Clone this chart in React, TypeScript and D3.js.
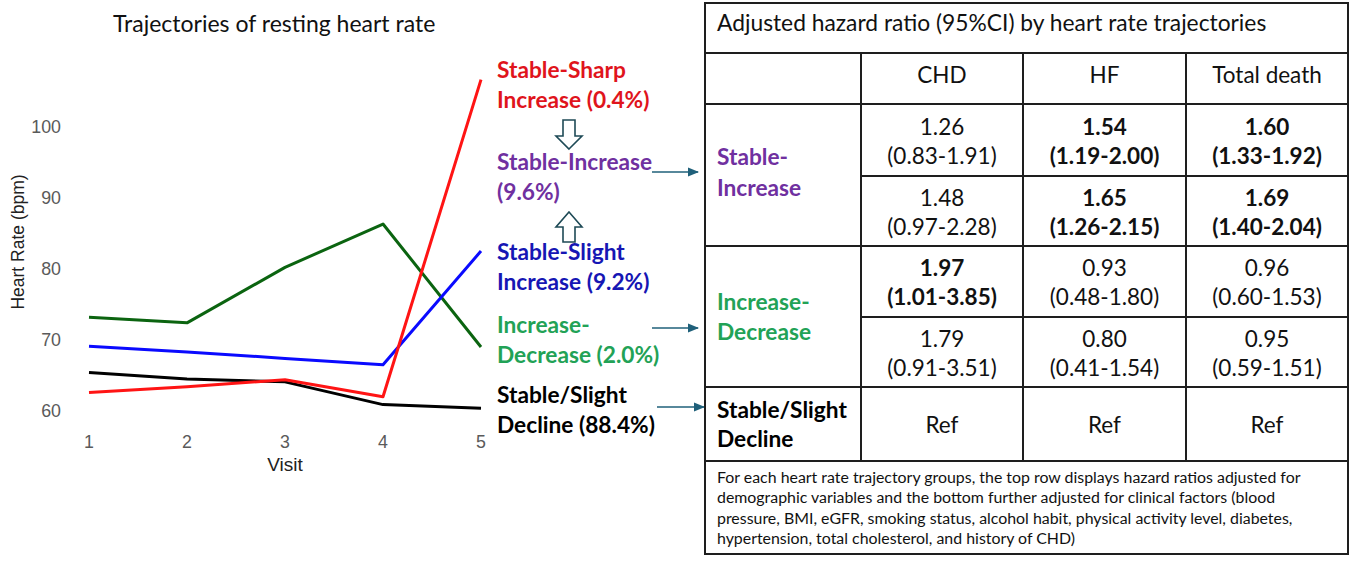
import * as d3 from "d3";

// ---- chart data ----
const visits = [1, 2, 3, 4, 5];
const yTicks = [60, 70, 80, 90, 100];

const sharpIncrease = [62.6, 63.4, 64.4, 62.0, 106.6];
const slightIncrease = [69.1, 68.3, 67.4, 66.5, 82.5];
const increaseDecrease = [73.2, 72.4, 80.2, 86.3, 69.0];
const slightDecline = [65.4, 64.5, 64.1, 60.9, 60.4];

const seriesNames = ["Stable-Sharp Increase", "Stable-Slight Increase", "Increase-Decrease", "Stable/Slight Decline"];
const seriesColors = ["#ff1414", "#0a0aff", "#0b6410", "#000000"];
const seriesValues = [sharpIncrease, slightIncrease, increaseDecrease, slightDecline];

// ---- side labels ----
const labelLines = [
  ["Stable-Sharp", "Increase (0.4%)"],
  ["Stable-Increase", "(9.6%)"],
  ["Stable-Slight", "Increase (9.2%)"],
  ["Increase-", "Decrease (2.0%)"],
  ["Stable/Slight", "Decline (88.4%)"],
];
const labelColors = ["#e0141c", "#7030a0", "#1616b4", "#22a256", "#000000"];

// ---- table data ----
const tableTitle = "Adjusted hazard ratio (95%CI) by heart rate trajectories";
const outcomes = ["CHD", "HF", "Total death"];
const groups = [
  ["Stable-", "Increase"],
  ["Increase-", "Decrease"],
  ["Stable/Slight", "Decline"],
];
const groupColors = ["#7030a0", "#22a256", "#000000"];
// demographic-adjusted (top) and fully adjusted (bottom) rows
const hrTop = [
  ["1.26", "(0.83-1.91)", "1.54", "(1.19-2.00)", "1.60", "(1.33-1.92)"],
  ["1.97", "(1.01-3.85)", "0.93", "(0.48-1.80)", "0.96", "(0.60-1.53)"],
];
const hrBottom = [
  ["1.48", "(0.97-2.28)", "1.65", "(1.26-2.15)", "1.69", "(1.40-2.04)"],
  ["1.79", "(0.91-3.51)", "0.80", "(0.41-1.54)", "0.95", "(0.59-1.51)"],
];
const boldTop = [
  [false, true, true],
  [true, false, false],
];
const boldBottom = [
  [false, true, true],
  [false, false, false],
];
const refLabel = "Ref";
const footnote = [
  "For each heart rate trajectory groups, the top row displays hazard ratios adjusted for",
  "demographic variables and the bottom further adjusted for clinical factors (blood",
  "pressure, BMI, eGFR, smoking status, alcohol habit, physical activity level, diabetes,",
  "hypertension, total cholesterol, and history of CHD)",
];

const W = 1350;
const H = 562;
const sans = "Lato, 'Open Sans', sans-serif";
const arial = "'Liberation Sans', Arial, sans-serif";

export default function App() {
  const x = d3.scaleLinear().domain([1, 5]).range([89, 481]);
  const y = d3.scaleLinear().domain([60, 100]).range([411, 126.6]);
  const line = d3
    .line<number>()
    .x((_, i) => x(visits[i]))
    .y((d) => y(d));

  // table layout
  const colX = [705, 861, 1023, 1186, 1348];
  const rowY = [3, 53, 104, 246, 387, 461, 554];
  const subY = [176, 317];
  const colMid = (i: number) => (colX[i + 1] + colX[i + 2]) / 2;
  const stroke = "#1e1e1e";

  const labelTop = [78, 170, 260, 333, 403];
  const groupTop = [165, 310, 418];
  const groupGap = [31, 30, 29];
  const teal = "#1f607a";

  const blockArrow = (cx: number, tipY: number, baseY: number, endY: number) => {
    // hollow block arrow; tip at tipY, head base at baseY, shaft end at endY
    const hw = 13;
    const sw = 6;
    return `M${cx},${tipY} L${cx + hw},${baseY} L${cx + sw},${baseY} L${cx + sw},${endY} L${cx - sw},${endY} L${cx - sw},${baseY} L${cx - hw},${baseY} Z`;
  };

  return (
    <div style={{ position: "absolute", left: 0, top: 0 }}>
      <svg width={W} height={H} style={{ display: "block", background: "#fff" }}>
        <defs>
          <marker id="arr" viewBox="0 0 10 10" refX="9" refY="5" markerWidth="7" markerHeight="7" orient="auto">
            <path d="M0,1 L10,5 L0,9 Z" fill={teal} />
          </marker>
        </defs>

        {/* chart title */}
        <text x={113} y={32} fontFamily={sans} fontSize={23} fill="#111">
          Trajectories of resting heart rate
        </text>

        {/* y ticks */}
        {yTicks.map((t) => (
          <text key={t} x={61} y={y(t)} dy="0.36em" textAnchor="end" fontFamily={arial} fontSize={17.8} fill="#5a5a5a">
            {t}
          </text>
        ))}
        {visits.map((v) => (
          <text key={v} x={x(v)} y={448} textAnchor="middle" fontFamily={arial} fontSize={17.8} fill="#5a5a5a">
            {v}
          </text>
        ))}
        <text x={285} y={471} textAnchor="middle" fontFamily={arial} fontSize={19} fill="#222">
          Visit
        </text>
        <text
          transform={`translate(24,242) rotate(-90)`}
          textAnchor="middle"
          fontFamily={arial}
          fontSize={17.5}
          fill="#222"
        >
          Heart Rate (bpm)
        </text>

        {/* lines (black first, red last) */}
        {[3, 2, 1, 0].map((i) => (
          <path
            key={seriesNames[i]}
            d={line(seriesValues[i]) || ""}
            fill="none"
            stroke={seriesColors[i]}
            strokeWidth={3}
            strokeLinejoin="round"
          />
        ))}

        {/* group labels */}
        {labelLines.map((ls, i) => (
          <text key={i} fontFamily={sans} fontWeight={700} fontSize={22.7} fill={labelColors[i]}>
            {ls.map((s, j) => (
              <tspan key={j} x={497} y={labelTop[i] + j * 29.5}>
                {s}
              </tspan>
            ))}
          </text>
        ))}

        {/* hollow block arrows */}
        <path d={blockArrow(569, 149, 136, 120)} fill="#fff" stroke="#1e4a56" strokeWidth={1.6} />
        <path d={blockArrow(569, 212, 227, 242)} fill="#fff" stroke="#1e4a56" strokeWidth={1.6} />

        {/* thin arrows to table */}
        {[172, 328].map((yy) => (
          <line key={yy} x1={652} x2={698} y1={yy} y2={yy} stroke={teal} strokeWidth={1.6} markerEnd="url(#arr)" />
        ))}
        <line x1={657} x2={704} y1={407} y2={407} stroke={teal} strokeWidth={1.6} markerEnd="url(#arr)" />

        {/* table grid */}
        <rect x={colX[0]} y={rowY[0]} width={colX[4] - colX[0]} height={rowY[6] - rowY[0]} fill="#fff" stroke={stroke} strokeWidth={2} />
        {rowY.slice(1, 6).map((ry) => (
          <line key={ry} x1={colX[0]} x2={colX[4]} y1={ry} y2={ry} stroke={stroke} strokeWidth={2} />
        ))}
        {subY.map((ry) => (
          <line key={ry} x1={colX[1]} x2={colX[4]} y1={ry} y2={ry} stroke={stroke} strokeWidth={2} />
        ))}
        {colX.slice(1, 4).map((cx) => (
          <line key={cx} x1={cx} x2={cx} y1={rowY[1]} y2={rowY[5]} stroke={stroke} strokeWidth={2} />
        ))}

        <text x={717} y={31} fontFamily={sans} fontSize={22.8} fill="#111">
          {tableTitle}
        </text>
        {outcomes.map((o, i) => (
          <text key={o} x={colMid(i)} y={83} textAnchor="middle" fontFamily={sans} fontSize={22.5} fill="#111">
            {o}
          </text>
        ))}

        {/* group labels in table */}
        {groups.map((g, gi) => (
          <text key={gi} fontFamily={sans} fontWeight={700} fontSize={22.7} fill={groupColors[gi]}>
            {g.map((s, j) => (
              <tspan key={j} x={717} y={groupTop[gi] + j * groupGap[gi]}>
                {s}
              </tspan>
            ))}
          </text>
        ))}

        {/* hazard ratios */}
        {[0, 1].map((gi) =>
          [0, 1].map((sub) => {
            const vals = sub === 0 ? hrTop[gi] : hrBottom[gi];
            const bolds = sub === 0 ? boldTop[gi] : boldBottom[gi];
            const top = sub === 0 ? rowY[2 + gi] : subY[gi];
            const bottom = sub === 0 ? subY[gi] : rowY[3 + gi];
            const mid = (top + bottom) / 2;
            return outcomes.map((o, ci) => (
              <text
                key={`${gi}-${sub}-${o}`}
                textAnchor="middle"
                fontFamily={sans}
                fontWeight={bolds[ci] ? 700 : 400}
                fontSize={22.5}
                fill="#111"
              >
                <tspan x={colMid(ci)} y={mid - 5.5}>
                  {vals[ci * 2]}
                </tspan>
                <tspan x={colMid(ci)} y={mid + 23.5}>
                  {vals[ci * 2 + 1]}
                </tspan>
              </text>
            ));
          })
        )}
        {outcomes.map((o, ci) => (
          <text key={o} x={colMid(ci)} y={433} textAnchor="middle" fontFamily={sans} fontSize={22.5} fill="#111">
            {refLabel}
          </text>
        ))}

        {/* footnote */}
        {footnote.map((s, i) => (
          <text key={i} x={717} y={483 + i * 20.4} fontFamily={sans} fontSize={15.9} fill="#111">
            {s}
          </text>
        ))}
      </svg>
    </div>
  );
}
